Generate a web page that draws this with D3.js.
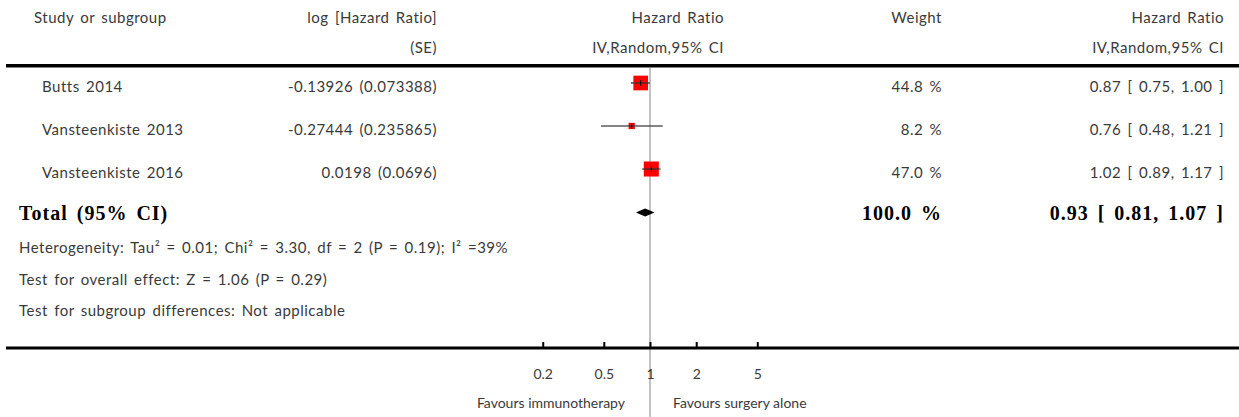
<!DOCTYPE html>
<html>
<head>
<meta charset="utf-8">
<script src="https://cdn.jsdelivr.net/npm/d3@7/dist/d3.min.js"></script>
<style>
  html, body { margin: 0; padding: 0; background: #fff; }
  svg { display: block; }
  .t { font-family: Lato, "Noto Sans", sans-serif; font-weight: 400; fill: #3a3a3a; font-size: 15px; letter-spacing: 0.5px; word-spacing: 2px; }
  .b { font-family: "Liberation Serif", "DejaVu Serif", serif; font-weight: bold; fill: #000; font-size: 20px; letter-spacing: 1px; word-spacing: 3px; }
  .sm { font-family: Lato, "Noto Sans", sans-serif; font-weight: 400; fill: #3a3a3a; font-size: 14px; letter-spacing: 0px; }
</style>
</head>
<body>
<svg id="chart" width="1239" height="417"></svg>
<script>
// Study-level data
const studies   = ["Butts 2014", "Vansteenkiste 2013", "Vansteenkiste 2016"];
const logHR     = [-0.13926, -0.27444, 0.0198];
const logSE     = [0.073388, 0.235865, 0.0696];
const weights   = [44.8, 8.2, 47.0];
const hr        = [0.87, 0.76, 1.02];
const ciLow     = [0.75, 0.48, 0.89];
const ciHigh    = [1.00, 1.21, 1.17];

// Pooled estimate
const totalWeight = 100.0;
const totalHR     = 0.93;
const totalLow    = 0.81;
const totalHigh   = 1.07;

// Footer statistics
const heterogeneity = "Heterogeneity: Tau\u00B2 = 0.01; Chi\u00B2 = 3.30, df = 2 (P = 0.19); I\u00B2 =39%";
const overallEffect = "Test for overall effect: Z = 1.06 (P = 0.29)";
const subgroupTest  = "Test for subgroup differences: Not applicable";

// Axis
const tickValues = [0.2, 0.5, 1, 2, 5];
const tickLabels = ["0.2", "0.5", "1", "2", "5"];
const favourLeft  = "Favours immunotherapy";
const favourRight = "Favours surgery alone";

const W = 1239, H = 417;
const svg = d3.select("#chart");

const x = d3.scaleLog().domain([0.01, 100]).range([343, 957]);
const y = d3.scalePoint().domain(studies).range([83, 169]);
const yTotal = 212.5;
const size = d3.scaleSqrt().domain([0, 50]).range([0, 15.5]);
const f2 = d3.format(".2f");
const f1 = d3.format(".1f");

// Column anchors
const colStudy = 42, colLog = 437, colPlotHdr = 724, colWeight = 942, colCI = 1224;

// Line of no effect
svg.append("line")
  .attr("x1", x(1)).attr("x2", x(1))
  .attr("y1", 68).attr("y2", H)
  .attr("stroke", "#9a9a9a").attr("stroke-width", 1.2);

// Header
const hdr = svg.append("g").attr("class", "t");
hdr.append("text").attr("x", 34).attr("y", 23).text("Study or subgroup");
hdr.append("text").attr("x", colLog).attr("y", 23).attr("text-anchor", "end").text("log [Hazard Ratio]");
hdr.append("text").attr("x", colLog).attr("y", 53).attr("text-anchor", "end").text("(SE)");
hdr.append("text").attr("x", colPlotHdr).attr("y", 23).attr("text-anchor", "end").text("Hazard Ratio");
hdr.append("text").attr("x", colPlotHdr).attr("y", 53).attr("text-anchor", "end").text("IV,Random,95% CI");
hdr.append("text").attr("x", colWeight).attr("y", 23).attr("text-anchor", "end").text("Weight");
hdr.append("text").attr("x", colCI).attr("y", 23).attr("text-anchor", "end").text("Hazard Ratio");
hdr.append("text").attr("x", colCI).attr("y", 53).attr("text-anchor", "end").text("IV,Random,95% CI");

// Horizontal rules
svg.append("rect").attr("x", 6).attr("y", 64).attr("width", W - 6).attr("height", 3.5).attr("fill", "#000");
svg.append("rect").attr("x", 6).attr("y", 346.5).attr("width", W - 6).attr("height", 3).attr("fill", "#000");

// Study rows
const rows = svg.append("g").selectAll("g")
  .data(studies.map((s, i) => ({ s, i })))
  .join("g");

rows.append("text").attr("class", "t")
  .attr("x", colStudy).attr("y", d => y(d.s) + 9)
  .text(d => d.s);
rows.append("text").attr("class", "t")
  .attr("x", colLog).attr("y", d => y(d.s) + 9).attr("text-anchor", "end")
  .text(d => `${logHR[d.i]} (${logSE[d.i]})`);
rows.append("text").attr("class", "t")
  .attr("x", colWeight).attr("y", d => y(d.s) + 9).attr("text-anchor", "end")
  .text(d => `${f1(weights[d.i])} %`);
rows.append("text").attr("class", "t")
  .attr("x", colCI).attr("y", d => y(d.s) + 9).attr("text-anchor", "end")
  .text(d => `${f2(hr[d.i])} [ ${f2(ciLow[d.i])}, ${f2(ciHigh[d.i])} ]`);

// Weighted squares
rows.append("rect")
  .attr("x", d => x(hr[d.i]) - size(weights[d.i]) / 2)
  .attr("y", d => y(d.s) - size(weights[d.i]) / 2)
  .attr("width", d => size(weights[d.i]))
  .attr("height", d => size(weights[d.i]))
  .attr("fill", "#ff0000");

// Confidence intervals
rows.append("line")
  .attr("x1", d => x(ciLow[d.i])).attr("x2", d => x(ciHigh[d.i]))
  .attr("y1", d => y(d.s)).attr("y2", d => y(d.s))
  .attr("stroke", "#333").attr("stroke-opacity", 0.8).attr("stroke-width", 1.6);

// Point estimate marks
rows.append("line")
  .attr("x1", d => x(hr[d.i])).attr("x2", d => x(hr[d.i]))
  .attr("y1", d => y(d.s) - 3).attr("y2", d => y(d.s) + 3)
  .attr("stroke", "#000").attr("stroke-width", 1);

// Total row
svg.append("text").attr("class", "b").attr("x", 19).attr("y", yTotal + 7.5).text("Total (95% CI)");
svg.append("text").attr("class", "b").attr("x", colWeight).attr("y", yTotal + 7.5)
  .attr("text-anchor", "end").text(`${f1(totalWeight)} %`);
svg.append("text").attr("class", "b").attr("x", colCI).attr("y", yTotal + 7.5)
  .attr("text-anchor", "end").text(`${f2(totalHR)} [ ${f2(totalLow)}, ${f2(totalHigh)} ]`);

const dh = 4;
svg.append("path")
  .attr("d", d3.line()([
    [x(totalLow), yTotal], [x(totalHR), yTotal - dh],
    [x(totalHigh), yTotal], [x(totalHR), yTotal + dh]
  ]) + "Z")
  .attr("fill", "#000");

// Footer statistics
const foot = svg.append("g").attr("class", "t");
foot.append("text").attr("x", 19).attr("y", 253).text(heterogeneity);
foot.append("text").attr("x", 19).attr("y", 285).text(overallEffect);
foot.append("text").attr("x", 19).attr("y", 316).text(subgroupTest);

// Axis with upward ticks, labels underneath
const axis = d3.axisBottom(x)
  .tickValues(tickValues)
  .tickFormat((d, i) => tickLabels[i])
  .tickSizeInner(-5)
  .tickSizeOuter(0)
  .tickPadding(22);

const ag = svg.append("g").attr("transform", "translate(0,347)").call(axis);
ag.select(".domain").remove();
ag.selectAll(".tick line").attr("stroke", "#000").attr("stroke-width", 2);
ag.selectAll(".tick text").attr("class", "sm").attr("font-family", null).attr("font-size", null).attr("fill", null);

svg.append("text").attr("class", "sm").attr("x", x(1) - 25).attr("y", 408)
  .attr("text-anchor", "end").text(favourLeft);
svg.append("text").attr("class", "sm").attr("x", x(1) + 23).attr("y", 408)
  .text(favourRight);
</script>
</body>
</html>
